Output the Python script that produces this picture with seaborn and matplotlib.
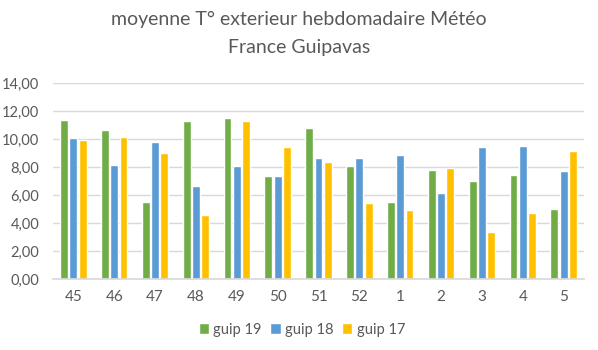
import matplotlib
matplotlib.use("Agg")
import matplotlib.pyplot as plt
import seaborn as sns
import pandas as pd

weeks = ["45", "46", "47", "48", "49", "50", "51", "52", "1", "2", "3", "4", "5"]
guip19 = [11.38, 10.67, 5.50, 11.31, 11.48, 7.36, 10.79, 8.05, 5.50, 7.81, 7.00, 7.45, 4.98]
guip18 = [10.10, 8.14, 9.76, 6.67, 8.10, 7.36, 8.67, 8.67, 8.88, 6.12, 9.45, 9.52, 7.69]
guip17 = [9.93, 10.17, 9.02, 4.55, 11.31, 9.40, 8.38, 5.43, 4.93, 7.90, 3.38, 4.69, 9.12]
series = ["guip 19", "guip 18", "guip 17"]
colors = ["#70AD47", "#5B9BD5", "#FFC000"]
yticks = [0, 2, 4, 6, 8, 10, 12, 14]

rows = []
for name, vals in zip(series, [guip19, guip18, guip17]):
    for w, v in zip(weeks, vals):
        rows.append({"week": w, "serie": name, "val": v})
df = pd.DataFrame(rows)

sns.set_theme(style="white")
plt.rcParams["font.family"] = ["Lato", "DejaVu Sans"]

fig = plt.figure(figsize=(5.98, 3.5), dpi=100)
ax = fig.add_axes([0.0886, 0.203, 0.888, 0.56])
sns.barplot(data=df, x="week", y="val", hue="serie", order=weeks, hue_order=series,
            palette=colors, width=0.68, gap=0.15, ax=ax, legend=True, saturation=1)

ax.set_ylim(0, 14)
ax.set_xlim(-0.5, len(weeks) - 0.5)
ax.set_yticks(yticks)
ax.set_yticklabels([f"{t:.2f}".replace(".", ",") for t in yticks], color="#595959", fontsize=10.5)
ax.tick_params(axis="x", colors="#595959", labelsize=11, length=0, pad=8)
ax.tick_params(axis="y", length=0, pad=10)
ax.set_xlabel("")
ax.set_ylabel("")
ax.yaxis.grid(True, color="#D9D9D9", linewidth=1)
ax.set_axisbelow(True)
for s in ["left", "right", "top"]:
    ax.spines[s].set_visible(False)
ax.spines["bottom"].set_color("#D9D9D9")

ax.legend(loc="upper center", bbox_to_anchor=(0.505, 0.116), bbox_transform=fig.transFigure,
          ncol=3, frameon=False,
          fontsize=10.5, labelcolor="#595959", handlelength=0.7, handleheight=0.7,
          handletextpad=0.3, columnspacing=0.6)

fig.text(0.5, 0.968, "moyenne T° exterieur hebdomadaire Météo\nFrance Guipavas",
         ha="center", va="top", fontsize=14, color="#595959", linespacing=1.75)

fig.savefig("out.png", dpi=100, facecolor="white")
